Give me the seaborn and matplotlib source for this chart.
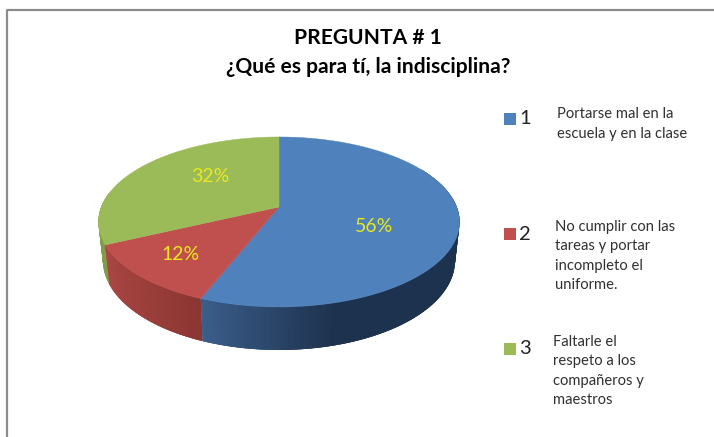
import numpy as np
import pandas as pd
import seaborn as sns
import matplotlib.pyplot as plt

# data
question = ['PREGUNTA # 1', '¿Qué es para tí, la indisciplina?']
categories = ['1', '2', '3']
percent = [56, 12, 32]
answers = ['Portarse mal en la\nescuela y en la clase',
           'No cumplir con las\ntareas y portar\nincompleto el\nuniforme.',
           'Faltarle el\nrespeto a los\ncompañeros y\nmaestros']
colors = ['#4f81bd', '#c0504d', '#9bbb59']

sns.set_theme(style="white")
plt.rcParams['font.family'] = ['Lato', 'DejaVu Sans']

fig, ax = plt.subplots(figsize=(7.14, 4.37), dpi=100)
ax.set_position([0, 0, 1, 1])


# perspective view of the pie, angle is clockwise from the top
def top_face(theta):
    u, v = np.sin(theta), np.cos(theta)
    w = 1 + 0.176 * v
    return 279 + 177.7 * u / w, 207 - 82.35 * v / w


def bottom_face(theta):
    x, y = top_face(theta)
    return 279 + (x - 279) * 0.975, 207 + (y - 207) * 1.05 + 38


def wall_color(x, x0, x1, c0, c1):
    t = np.clip((x - x0) / (x1 - x0), 0, 1)
    return tuple((1 - t) * np.array(c0) + t * np.array(c1))


edges = np.cumsum([0] + percent) / 100 * 2 * np.pi
BLUE_L, BLUE_D = (0.235, 0.373, 0.553), (0.114, 0.196, 0.306)
RED_L, RED_D = (0.655, 0.267, 0.251), (0.541, 0.212, 0.196)

# side walls first, as thin overlapping strips for the shading
walls = [(np.radians(60), edges[1], 202, 340, BLUE_L, BLUE_D),
         (edges[1], edges[2], 202, 108, RED_D, RED_L),
         (edges[2], np.radians(280), 100, 110, (0.5, 0.61, 0.27), (0.5, 0.61, 0.27))]
for start, stop, x0, x1, c0, c1 in reversed(walls):
    steps = np.linspace(start, stop, 240)
    step = steps[1] - steps[0]
    for a in steps[-2::-1]:
        t = np.array([a, min(a + 3 * step, stop)])
        xt, yt = top_face(t)
        xb, yb = bottom_face(t)
        col = wall_color(xt[0], x0, x1, c0, c1)
        ax.fill(np.r_[xt, xb[::-1]], np.r_[yt, yb[::-1]], color=col, lw=0)

# top of the pie
for i, col in enumerate(colors):
    t = np.linspace(edges[i], edges[i + 1], 150)
    xt, yt = top_face(t)
    ax.fill(np.r_[279, xt], np.r_[207, yt], color=col, lw=0.3)

for val, x, y in zip(percent, [374, 181, 210], [227, 254, 176]):
    ax.text(x, y, f'{val}%', color='#e8e81c', fontsize=14, ha='center', va='center')

# legend
legend_df = pd.DataFrame({'x': [510, 510, 510], 'y': [119, 234, 349], 'cat': categories})
sns.scatterplot(data=legend_df, x='x', y='y', hue='cat', palette=colors, marker='s',
                s=72, linewidth=0, legend=False, ax=ax)
for cat, y in zip(categories, legend_df['y']):
    ax.text(525, y, cat, fontsize=14.5, color='#222222', ha='center', va='center')

for txt, x, y in zip(answers, [557, 555, 553], [124, 256, 371]):
    ax.text(x, y, txt, fontsize=10.6, color='#303030', ha='left', va='center', linespacing=1.49)

ax.text(368, 38, question[0], fontsize=15.1, fontweight='bold', color='black', ha='center', va='center')
ax.text(368, 67, question[1], fontsize=15.1, fontweight='bold', color='black', ha='center', va='center')

# chart border, only left and top fall inside the crop
ax.plot([7, 7, 714], [437, 10, 10], color='#8c8c8c', lw=1.6)

ax.set_xlim(0, 714)
ax.set_ylim(437, 0)
ax.set_xlabel('')
ax.set_ylabel('')
ax.axis('off')

plt.savefig('out.png', dpi=100, facecolor='white')
